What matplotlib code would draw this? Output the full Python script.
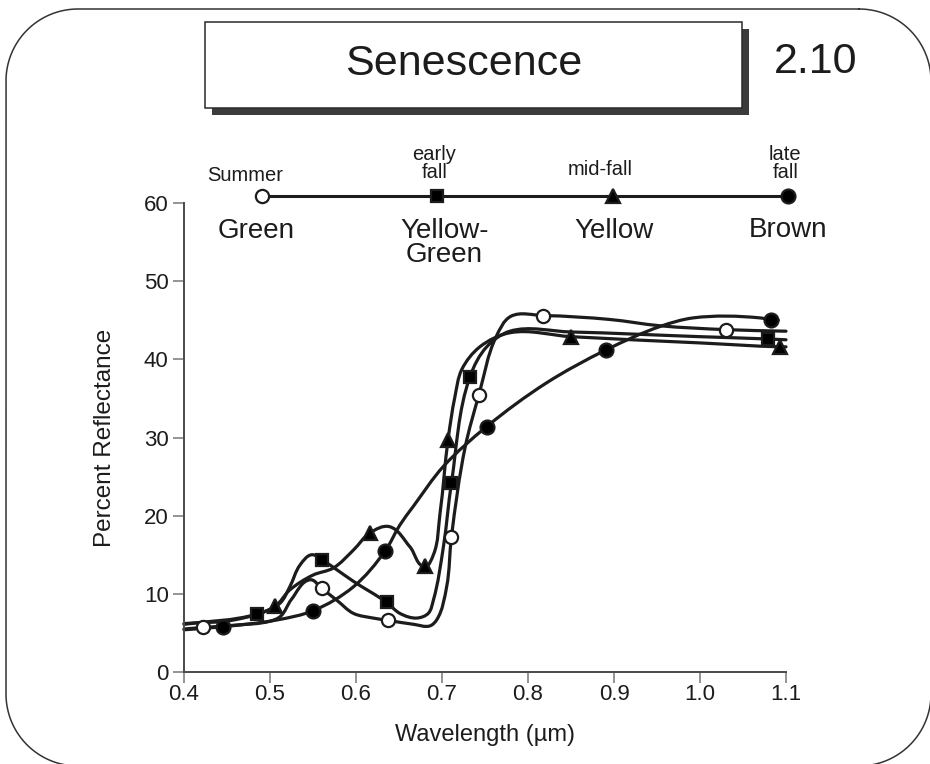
import numpy as np
import matplotlib
matplotlib.use("Agg")
import matplotlib.pyplot as plt
from matplotlib.path import Path
from matplotlib.patches import PathPatch, Rectangle

plt.rcParams['font.family'] = ['Liberation Sans', 'DejaVu Sans']

# ---- data -------------------------------------------------------------
stage_names = ['Summer', 'early\nfall', 'mid-fall', 'late\nfall']
leaf_colours = ['Green', 'Yellow-\nGreen', 'Yellow', 'Brown']
stage_markers = ['o', 's', '^', 'o']
stage_fill = ['white', 'black', 'black', 'black']

x_ticks = [0.4, 0.5, 0.6, 0.7, 0.8, 0.9, 1.0, 1.1]
y_ticks = [0, 10, 20, 30, 40, 50, 60]

# Summer (green leaves)
summer_wl = [0.400, 0.4225, 0.460, 0.500, 0.512, 0.525, 0.547, 0.560, 0.5775,
             0.597, 0.620, 0.6376, 0.667, 0.686, 0.694, 0.7054, 0.711, 0.727,
             0.743, 0.763, 0.780, 0.818, 0.895, 0.953, 1.030, 1.100]
summer_refl = [5.5, 5.7, 6.0, 6.5, 7.1, 9.3, 11.8, 10.7, 9.2,
               7.5, 6.9, 6.6, 6.1, 5.9, 6.7, 10.9, 17.3, 28.8,
               35.5, 42.9, 45.5, 45.6, 45.1, 44.3, 43.8, 43.6]
summer_mark_wl = [0.4225, 0.560, 0.6376, 0.711, 0.743, 0.818, 1.030]
summer_mark_refl = [5.7, 10.7, 6.6, 17.3, 35.5, 45.6, 43.8]

# Early fall (yellow-green leaves)
early_wl = [0.400, 0.4845, 0.5116, 0.523, 0.535, 0.5485, 0.561, 0.580, 0.597,
            0.6357, 0.651, 0.6706, 0.684, 0.690, 0.7016, 0.711, 0.7326, 0.752,
            0.779, 0.850, 1.000, 1.0795, 1.100]
early_refl = [6.1, 7.4, 8.8, 10.9, 13.7, 15.0, 14.3, 12.9, 11.6,
              8.9, 7.5, 6.9, 7.5, 9.2, 16.0, 24.2, 37.8, 41.6,
              43.6, 43.5, 42.9, 42.6, 42.5]
early_mark_wl = [0.4845, 0.561, 0.6357, 0.711, 0.7326, 1.0795]
early_mark_refl = [7.4, 14.3, 8.9, 24.2, 37.8, 42.6]

# Mid fall (yellow leaves)
mid_wl = [0.400, 0.460, 0.5058, 0.523, 0.550, 0.5736, 0.597, 0.6163, 0.6387,
          0.6628, 0.680, 0.690, 0.6977, 0.707, 0.715, 0.723, 0.744, 0.779,
          0.850, 1.000, 1.093, 1.100]
mid_refl = [6.2, 6.7, 8.4, 10.5, 12.4, 13.3, 15.6, 17.8, 18.6,
            16.0, 13.5, 15.0, 20.3, 29.7, 35.2, 38.7, 41.6, 43.4,
            42.9, 42.1, 41.6, 41.6]
mid_mark_wl = [0.5058, 0.6163, 0.680, 0.707, 0.850, 1.093]
mid_mark_refl = [8.4, 17.8, 13.5, 29.7, 42.9, 41.6]

# Late fall (brown leaves)
late_wl = [0.400, 0.4457, 0.5077, 0.5504, 0.597, 0.634, 0.651, 0.6667, 0.7016,
           0.752, 0.8217, 0.8907, 0.9535, 0.992, 1.070, 1.082, 1.091]
late_refl = [5.4, 5.8, 6.65, 7.85, 10.9, 15.5, 18.8, 21.2, 26.3,
             31.4, 37.0, 41.2, 44.2, 45.3, 45.3, 45.05, 45.0]
late_mark_wl = [0.4457, 0.5504, 0.634, 0.752, 0.8907, 1.082]
late_mark_refl = [5.8, 7.85, 15.5, 31.4, 41.2, 45.05]

curves = [
    (summer_wl, summer_refl, summer_mark_wl, summer_mark_refl),
    (early_wl, early_refl, early_mark_wl, early_mark_refl),
    (mid_wl, mid_refl, mid_mark_wl, mid_mark_refl),
    (late_wl, late_refl, late_mark_wl, late_mark_refl),
]

INK = '#1c1c1c'
AXIS = '#4a4a4a'

W, H = 930, 764
fig = plt.figure(figsize=(W / 100, H / 100), dpi=100)


def px_box(x0, y0, x1, y1):
    """Figure-fraction rectangle from pixel edges (y measured from the top)."""
    return [x0 / W, 1 - y1 / H, (x1 - x0) / W, (y1 - y0) / H]


def rounded_outline(x0, y0, x1, y1, r, n=40):
    """Closed polyline of a rounded rectangle (y grows downwards)."""
    pts = []
    corners = [(x1 - r, y0 + r, -90, 0), (x1 - r, y1 - r, 0, 90),
               (x0 + r, y1 - r, 90, 180), (x0 + r, y0 + r, 180, 270)]
    for cx, cy, a0, a1 in corners:
        t = np.radians(np.linspace(a0, a1, n))
        pts.extend(zip(cx + r * np.cos(t), cy + r * np.sin(t)))
    pts.append(pts[0])
    return np.array(pts)


# ---- decorations: rounded frame and title box ---------------------------
deco = fig.add_axes([0, 0, 1, 1], zorder=0)
deco.set_xlim(0, W)
deco.set_ylim(H, 0)
deco.axis('off')
frame = rounded_outline(6, 9, 931, 766, 72)
deco.plot(frame[:, 0], frame[:, 1], color='#333333', lw=1.1, clip_on=False)
deco.add_patch(Rectangle((212, 29), 537, 86, fc='#3c3c3c', ec='none'))
deco.add_patch(Rectangle((205, 22), 537, 86, fc='white', ec='#2a2a2a', lw=1.1))
deco.text(464, 64, 'Senescence', ha='center', va='center', fontsize=31, color=INK)
deco.text(816, 62, '2.10', ha='center', va='center', fontsize=31, color=INK)

# ---- main plot ----------------------------------------------------------
ax = fig.add_axes(px_box(184, 203, 786, 672), zorder=2)
ax.set_xlim(0.4, 1.1)
ax.set_ylim(0, 60)
ax.patch.set_alpha(0)
for s in ['top', 'right']:
    ax.spines[s].set_visible(False)
for s in ['left', 'bottom']:
    ax.spines[s].set_color(AXIS)
    ax.spines[s].set_linewidth(1.4)
ax.set_xticks(x_ticks)
ax.set_xticklabels([f'{v:.1f}' for v in x_ticks])
ax.set_yticks(y_ticks)
ax.tick_params(direction='out', length=8, width=1.1, color='#777777',
               labelsize=16, labelcolor=INK)
ax.tick_params(axis='x', pad=1)
ax.tick_params(axis='y', pad=3)
ax.set_xlabel('Wavelength (µm)', fontsize=17, color=INK, labelpad=13)
ax.set_ylabel('Percent Reflectance', fontsize=17.5, color=INK, labelpad=20)


def smooth_path(axes, xs, ys):
    """Bezier path through the points, with tangents set in display space."""
    pts = axes.transData.transform(np.column_stack([xs, ys]))
    n = len(pts)
    tang = []
    for i in range(n):
        if i == 0:
            d = pts[1] - pts[0]
        elif i == n - 1:
            d = pts[-1] - pts[-2]
        else:
            a = pts[i] - pts[i - 1]
            b = pts[i + 1] - pts[i]
            d = a / np.linalg.norm(a) + b / np.linalg.norm(b)
        tang.append(d / np.linalg.norm(d))
    verts = [pts[0]]
    codes = [Path.MOVETO]
    for i in range(n - 1):
        L = np.linalg.norm(pts[i + 1] - pts[i])
        verts += [pts[i] + tang[i] * L / 3, pts[i + 1] - tang[i + 1] * L / 3, pts[i + 1]]
        codes += [Path.CURVE4] * 3
    verts = axes.transData.inverted().transform(np.array(verts))
    return Path(verts, codes)


marker_sizes = [9.5, 9, 10.5, 10]
for (wl, refl, mwl, mrefl), mk, fc, ms in zip(curves, stage_markers, stage_fill, marker_sizes):
    ax.add_patch(PathPatch(smooth_path(ax, wl, refl), fill=False, ec=INK, lw=2.3,
                           capstyle='round', joinstyle='round', zorder=2, clip_on=False))
    ax.plot(mwl, mrefl, ls='none', marker=mk, ms=ms, mfc=fc, mec=INK, mew=1.6,
            zorder=3, clip_on=False)

# ---- stage key along the top ------------------------------------------
key = fig.add_axes(px_box(262, 186, 788, 206), zorder=3)
key.set_xlim(0, len(stage_names) - 1)
key.set_ylim(-1, 1)
key.axis('off')
pos = np.arange(len(stage_names))
key.plot(pos, np.zeros_like(pos), color=INK, lw=2.2, zorder=1, clip_on=False)
for i, (mk, fc, ms) in enumerate(zip(stage_markers, stage_fill, marker_sizes)):
    key.plot([pos[i]], [0], ls='none', marker=mk, ms=ms, mfc=fc, mec=INK, mew=1.6,
             zorder=2, clip_on=False)

upper_dx = [-12, -2, -9, -2]
upper_dy = [8, 10, 12, 10]
lower_dx = [-4, 5, 1, 0]
lower_dy = [-16, -15.5, -16, -15]
for i in range(len(stage_names)):
    key.annotate(stage_names[i], (pos[i], 0), xytext=(upper_dx[i], upper_dy[i]),
                 textcoords='offset points', ha='center', va='bottom',
                 fontsize=14.5, color=INK, linespacing=0.92)
    key.annotate(leaf_colours[i], (pos[i], 0), xytext=(lower_dx[i], lower_dy[i]),
                 textcoords='offset points', ha='center', va='top',
                 fontsize=20, color=INK, linespacing=0.92)

fig.savefig('out.png', dpi=100)
